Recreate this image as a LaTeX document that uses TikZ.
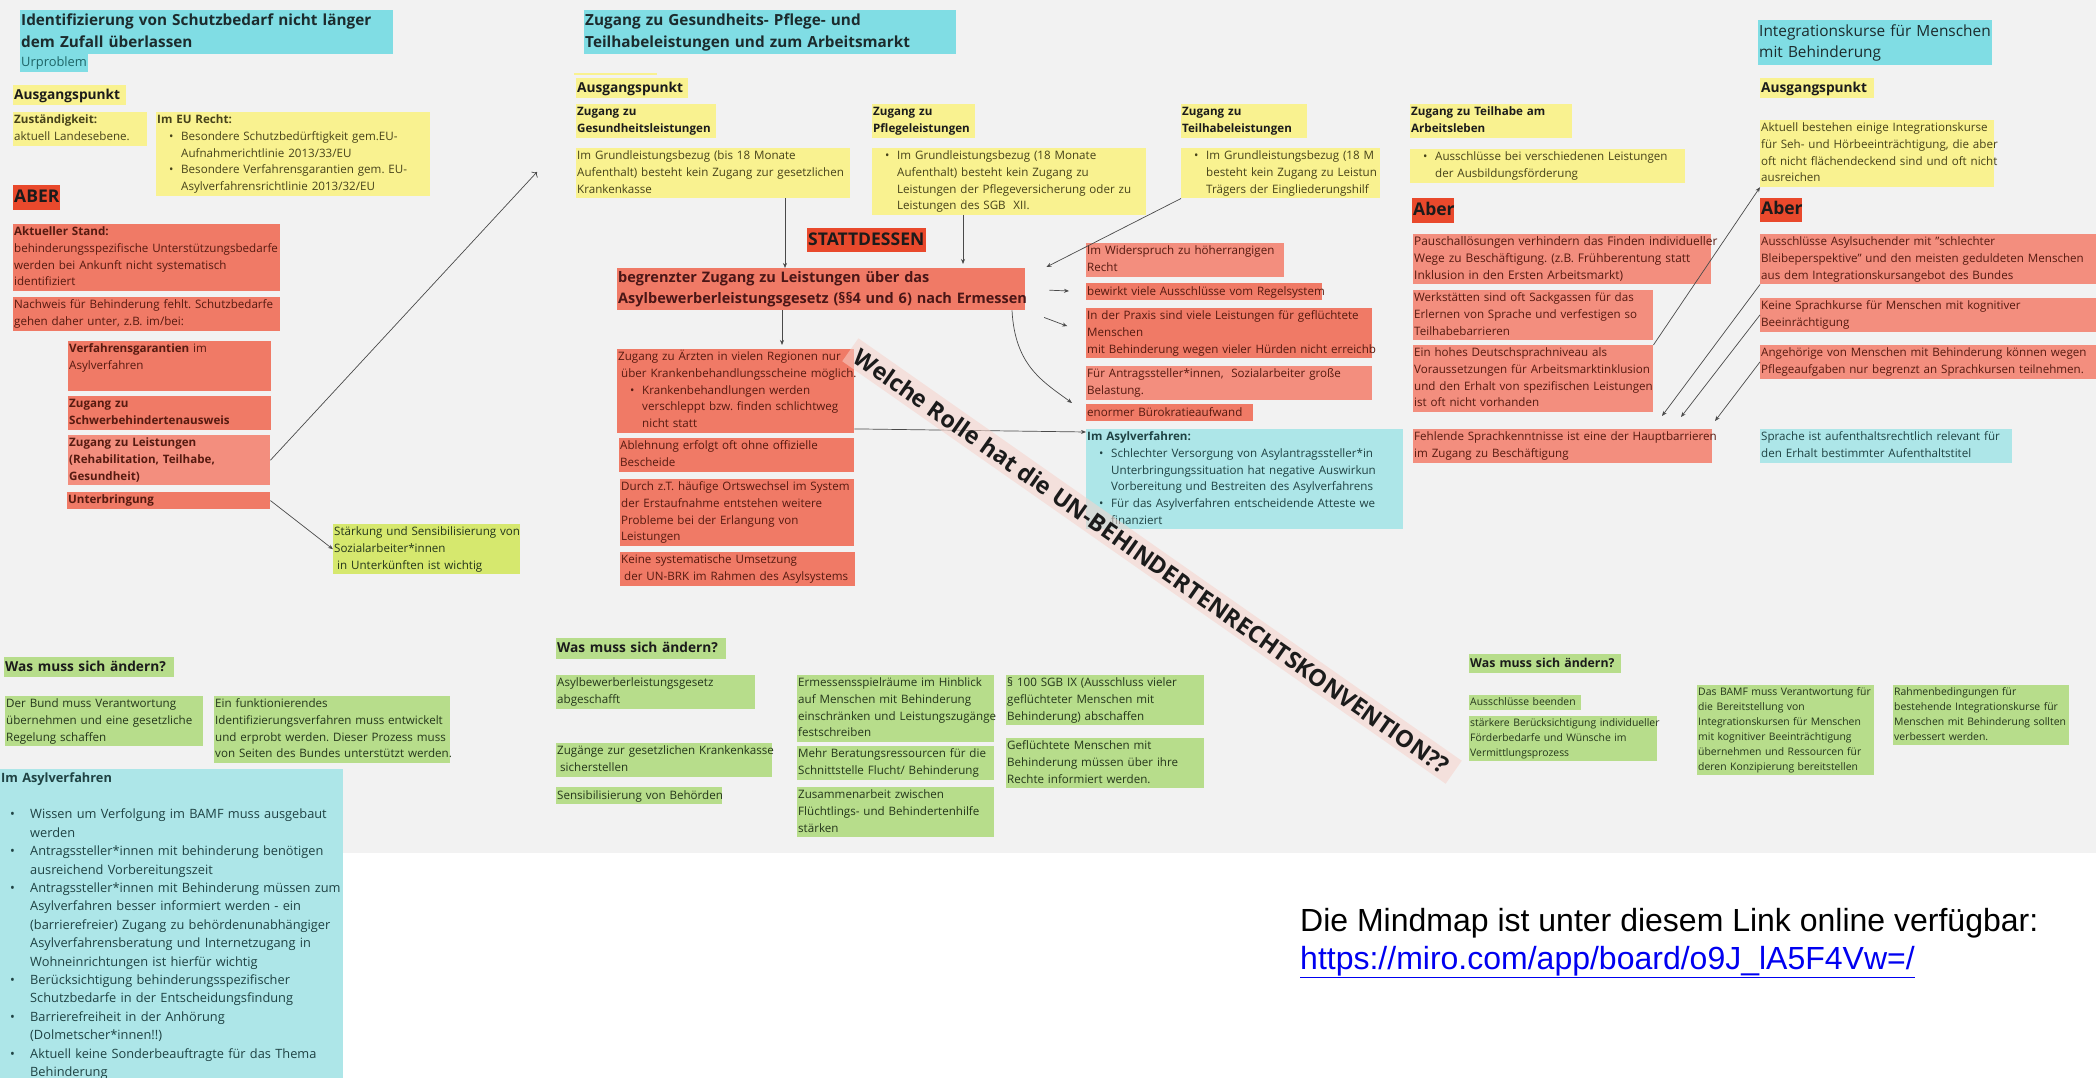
\documentclass[tikz,border=0pt]{standalone}
\usepackage{fontspec}
\setmainfont{Open Sans}
\newfontfamily\arialfont{Liberation Sans}
\usetikzlibrary{arrows.meta,calc}

\definecolor{cBoard}{HTML}{F2F2F2}
\definecolor{cTitle}{HTML}{80DDE4}
\definecolor{cCyan}{HTML}{ADE6E8}
\definecolor{cYellow}{HTML}{F9F290}
\definecolor{cRed}{HTML}{E9492C}
\definecolor{cSalmon}{HTML}{F07A66}
\definecolor{cSalmonL}{HTML}{F38E7E}
\definecolor{cGreen}{HTML}{B7DD8B}
\definecolor{cLime}{HTML}{D6E86E}
\definecolor{cBand}{HTML}{F6D3CB}
\definecolor{cLine}{HTML}{4A4A4A}
\definecolor{tDark}{HTML}{1B1B1B}
\definecolor{tTitle}{HTML}{1C2B2D}
\definecolor{tUr}{HTML}{1E6466}
\definecolor{tYellow}{HTML}{46421A}
\definecolor{tSalmon}{HTML}{561A10}
\definecolor{tGreen}{HTML}{24361B}
\definecolor{tCyan}{HTML}{1F4243}
\definecolor{linkblue}{HTML}{0000F0}

\newcommand\bul{\hspace*{12pt}\makebox[12pt][l]{\textbullet}}
\newcommand\bulind{\hspace*{24pt}}
\newcommand\bulw{\hspace*{9pt}\makebox[20pt][l]{\textbullet}}
\newcommand\bulwind{\hspace*{29pt}}
\frenchspacing

\begin{document}
\begin{tikzpicture}[x=1pt, y=-1pt,
    card/.style 2 args={anchor=north west, inner xsep=0pt, inner ysep=0pt,
      minimum width=#1pt, minimum height=#2pt, text width=#1pt,
      execute at begin node={\frenchspacing\leftskip=1pt\rightskip=0pt minus 300pt\relax\strut},
      execute at end node={\strut}},
    ynote/.style={fill=cYellow, text=tYellow},
    snote/.style={fill=cSalmon, text=tSalmon},
    slnote/.style={fill=cSalmonL, text=tSalmon},
    rnote/.style={fill=cRed, text=tDark},
    gnote/.style={fill=cGreen, text=tGreen},
    lnote/.style={fill=cLime, text=tGreen},
    cnote/.style={fill=cCyan, text=tCyan},
    tnote/.style={fill=cTitle, text=tTitle},
    txtbody/.style={font=\fontsize{11.6}{16.7}\selectfont},
    txtbold/.style={font=\bfseries\fontsize{11.6}{16.7}\selectfont},
    txtsmall/.style={font=\fontsize{10.4}{15}\selectfont},
    txtwide/.style={font=\fontsize{12.8}{18.4}\selectfont},
    txthead/.style={font=\bfseries\fontsize{13.7}{20}\selectfont, text=tDark},
    txtshead/.style={font=\bfseries\fontsize{12.3}{19}\selectfont, text=tDark},
    txtbig/.style={font=\bfseries\fontsize{17.5}{24}\selectfont},
    txttitle/.style={font=\bfseries\fontsize{15.3}{22}\selectfont},
    txtmain/.style={font=\bfseries\fontsize{14.5}{21}\selectfont, text=tDark!80!red},
    arr/.style={draw=cLine, line width=0.7pt, -{Stealth[length=5pt,width=4pt]}},
    arrO/.style={draw=cLine, line width=0.7pt, -{To[length=4pt]}}]

    \useasboundingbox (0,0) rectangle (2096,1078);
    % Board
    \fill[cBoard] (0,0) rectangle (2096,853);

    % Left column: Identifizierung
    \node[card={373}{44}, tnote, txttitle] (idTitle) at (20,10) {Identifizierung von Schutzbedarf nicht länger\\dem Zufall überlassen};
    \node[card={68}{18}, tnote, text=tUr, font=\fontsize{12.9}{18}\selectfont] (urprob) at (20,54) {Urproblem};
    \node[card={113}{20}, ynote, txthead] (ausgA) at (13,85) {Ausgangspunkt};
    \node[card={134}{33}, ynote, txtbody] (zust) at (13,112) {\textbf{Zuständigkeit:}\\aktuell Landesebene.};
    \node[card={274}{82}, ynote, txtbody] (euRecht) at (156,112) {\textbf{Im EU Recht:}\\\bul Besondere Schutzbedürftigkeit gem.EU-\\\bulind Aufnahmerichtlinie 2013/33/EU\\\bul Besondere Verfahrensgarantien gem. EU-\\\bulind Asylverfahrensrichtlinie 2013/32/EU};
    \node[card={47}{25}, rnote, txtbig] (aberA) at (13,185) {ABER};
    \node[card={267}{66}, snote, txtbody] (aktStand) at (13,224) {\textbf{Aktueller Stand:}\\behinderungsspezifische Unterstützungsbedarfe\\werden bei Ankunft nicht systematisch\\identifiziert};
    \node[card={267}{32}, snote, txtbody] (nachweis) at (13,297) {Nachweis für Behinderung fehlt. Schutzbedarfe\\gehen daher unter, z.B. im/bei:};
    \node[card={203}{49}, snote, txtbody] (verfG) at (68,341) {\textbf{Verfahrensgarantien} im\\Asylverfahren\\\mbox{}};
    \node[card={203}{32}, snote, txtbold] (schwbA) at (68,396) {Zugang zu\\Schwerbehindertenausweis};
    \node[card={202}{49}, slnote, txtbold] (leist) at (68,435) {Zugang zu Leistungen\\(Rehabilitation, Teilhabe,\\Gesundheit)};
    \node[card={203}{16}, snote, txtbold] (unterb) at (67,492) {Unterbringung};
    \node[card={187}{49}, lnote, txtbody] (staerk) at (333,524) {Stärkung und Sensibilisierung von\\Sozialarbeiter*innen\\\hspace*{3pt}in Unterkünften ist wichtig};
    \node[card={170}{20}, gnote, txthead] (aendA) at (4,657) {Was muss sich ändern?};
    \node[card={198}{49}, gnote, txtbody] (bund) at (5,696) {Der Bund muss Verantwortung\\übernehmen und eine gesetzliche\\Regelung schaffen};
    \node[card={236}{66}, gnote, txtbody] (identV) at (214,696) {Ein funktionierendes\\Identifizierungsverfahren muss entwickelt\\und erprobt werden. Dieser Prozess muss\\von Seiten des Bundes unterstützt werden.};
    \node[card={343}{309}, cnote, txtwide] (asylA) at (0,769) {\textbf{Im Asylverfahren}\\\mbox{}\\\bulw Wissen um Verfolgung im BAMF muss ausgebaut\\\bulwind werden\\\bulw Antragssteller*innen mit behinderung benötigen\\\bulwind ausreichend Vorbereitungszeit\\\bulw Antragssteller*innen mit Behinderung müssen zum\\\bulwind Asylverfahren besser informiert werden - ein\\\bulwind (barrierefreier) Zugang zu behördenunabhängiger\\\bulwind Asylverfahrensberatung und Internetzugang in\\\bulwind Wohneinrichtungen ist hierfür wichtig\\\bulw Berücksichtigung behinderungsspezifischer\\\bulwind Schutzbedarfe in der Entscheidungsfindung\\\bulw Barrierefreiheit in der Anhörung\\\bulwind (Dolmetscher*innen!!)\\\bulw Aktuell keine Sonderbeauftragte für das Thema\\\bulwind Behinderung};

    % Middle: Zugang zu Leistungen
    \node[card={372}{44}, tnote, txttitle] (zugTitle) at (584,10) {Zugang zu Gesundheits- Pflege- und\\Teilhabeleistungen und zum Arbeitsmarkt};
    \fill[cYellow] (574,73) rectangle (657,75);
    \node[card={112}{19}, ynote, txthead] (ausgB) at (576,78) {Ausgangspunkt};
    \node[card={140}{33}, ynote, txtbold, text=tDark] (gesZ) at (576,104) {Zugang zu\\Gesundheitsleistungen};
    \node[card={274}{49}, ynote, txtbody] (gesT) at (576,148) {Im Grundleistungsbezug (bis 18 Monate\\Aufenthalt) besteht kein Zugang zur gesetzlichen\\Krankenkasse};
    \node[card={103}{33}, ynote, txtbold, text=tDark] (pflZ) at (872,104) {Zugang zu\\Pflegeleistungen};
    \node[card={274}{66}, ynote, txtbody] (pflT) at (872,148) {\bul Im Grundleistungsbezug (18 Monate\\\bulind Aufenthalt) besteht kein Zugang zu\\\bulind Leistungen der Pflegeversicherung oder zu\\\bulind Leistungen des SGB\ \ XII.};
    \node[card={126}{33}, ynote, txtbold, text=tDark] (teiZ) at (1181,104) {Zugang zu\\Teilhabeleistungen};
    \node[card={199}{50}, ynote, txtbody] (teiT) at (1181,148) {\bul Im Grundleistungsbezug (18 M\\\bulind besteht kein Zugang zu Leistun\\\bulind Trägers der Eingliederungshilf};
    \node[card={119}{24}, rnote, txtbig] (statt) at (807,228) {STATTDESSEN};
    \node[card={408}{42}, snote, txtmain] (mainB) at (617,268) {begrenzter Zugang zu Leistungen über das\\Asylbewerberleistungsgesetz (§§4 und 6) nach Ermessen};
    \node[card={198}{33}, slnote, txtbody] (widerspr) at (1086,243) {Im Widerspruch zu höherrangigen\\Recht};
    \node[card={236}{17}, snote, txtbody] (bewirkt) at (1086,283) {bewirkt viele Ausschlüsse vom Regelsystem};
    \node[card={286}{50}, snote, txtbody] (praxis) at (1086,308) {In der Praxis sind viele Leistungen für geflüchtete\\Menschen\\mit Behinderung wegen vieler Hürden nicht erreichb};
    \node[card={286}{32}, slnote, txtbody] (antrag) at (1086,366) {Für Antragssteller*innen,\ \ Sozialarbeiter große\\Belastung.};
    \node[card={167}{17}, snote, txtbody] (buero) at (1086,404) {enormer Bürokratieaufwand};
    \node[card={317}{98}, cnote, txtbody] (asylB) at (1086,429) {\textbf{Im Asylverfahren:}\\\bul Schlechter Versorgung von Asylantragssteller*in\\\bulind Unterbringungssituation hat negative Auswirkun\\\bulind Vorbereitung und Bestreiten des Asylverfahrens\\\bul Für das Asylverfahren entscheidende Atteste we\\\bulind finanziert};
    \node[card={237}{82}, snote, txtbody] (aerzte) at (617,349) {Zugang zu Ärzten in vielen Regionen nur\\\hspace*{3pt}über Krankenbehandlungsscheine möglich.\\\bul Krankenbehandlungen werden\\\bulind verschleppt bzw. finden schlichtweg\\\bulind nicht statt};
    \node[card={235}{33}, snote, txtbody] (ablehn) at (619,438) {Ablehnung erfolgt oft ohne offizielle\\Bescheide};
    \node[card={234}{66}, snote, txtbody] (ortsw) at (620,479) {Durch z.T. häufige Ortswechsel im System\\der Erstaufnahme entstehen weitere\\Probleme bei der Erlangung von\\Leistungen};
    \node[card={235}{32}, snote, txtbody] (brkUms) at (620,552) {Keine systematische Umsetzung\\\hspace*{3pt}der UN-BRK im Rahmen des Asylsystems};
    \node[card={170}{21}, gnote, txthead] (aendB) at (556,638) {Was muss sich ändern?};
    \node[card={199}{32}, gnote, txtbody] (asylbg) at (556,675) {Asylbewerberleistungsgesetz\\abgeschafft};
    \node[card={216}{33}, gnote, txtbody] (krankK) at (556,743) {Zugänge zur gesetzlichen Krankenkasse\\\hspace*{3pt}sicherstellen};
    \node[card={166}{17}, gnote, txtbody] (sensib) at (556,787) {Sensibilisierung von Behörden};
    \node[card={197}{65}, gnote, txtbody] (ermess) at (797,675) {Ermessensspielräume im Hinblick\\auf Menschen mit Behinderung\\einschränken und Leistungszugänge\\festschreiben};
    \node[card={197}{32}, gnote, txtbody] (berat) at (797,746) {Mehr Beratungsressourcen für die\\Schnittstelle Flucht/ Behinderung};
    \node[card={197}{50}, gnote, txtbody] (zusarb) at (797,787) {Zusammenarbeit zwischen\\Flüchtlings- und Behindertenhilfe\\stärken};
    \node[card={198}{49}, gnote, txtbody] (sgb) at (1006,675) {§ 100 SGB IX (Ausschluss vieler\\geflüchteter Menschen mit\\Behinderung) abschaffen};
    \node[card={198}{49}, gnote, txtbody] (rechte) at (1006,738) {Geflüchtete Menschen mit\\Behinderung müssen über ihre\\Rechte informiert werden.};

    % Arbeitsleben
    \node[card={162}{33}, ynote, txtbold, text=tDark] (arbZ) at (1410,104) {Zugang zu Teilhabe am\\Arbeitsleben};
    \node[card={275}{33}, ynote, txtbody] (arbT) at (1410,149) {\bul Ausschlüsse bei verschiedenen Leistungen\\\bulind der Ausbildungsförderung};
    \node[card={42}{25}, rnote, txtbig] (aberB) at (1412,198) {Aber};
    \node[card={298}{49}, slnote, font=\fontsize{11.9}{16.7}\selectfont] (pausch) at (1413,234) {Pauschallösungen verhindern das Finden individueller\\Wege zu Beschäftigung. (z.B. Frühberentung statt\\Inklusion in den Ersten Arbeitsmarkt)};
    \node[card={240}{48}, slnote, txtbody] (werkst) at (1413,290) {Werkstätten sind oft Sackgassen für das\\Erlernen von Sprache und verfestigen so\\Teilhabebarrieren};
    \node[card={240}{66}, slnote, txtbody] (deutsch) at (1413,345) {Ein hohes Deutschsprachniveau als\\Voraussetzungen für Arbeitsmarktinklusion\\und den Erhalt von spezifischen Leistungen\\ist oft nicht vorhanden};
    \node[card={299}{32}, slnote, txtbody] (fehlend) at (1413,429) {Fehlende Sprachkenntnisse ist eine der Hauptbarrieren\\im Zugang zu Beschäftigung};
    \node[card={152}{19}, gnote, txtshead] (aendC) at (1469,654) {Was muss sich ändern?};
    \node[card={112}{14}, gnote, txtsmall] (beend) at (1469,695) {Ausschlüsse beenden};
    \node[card={188}{44}, gnote, txtsmall] (foerder) at (1469,716) {stärkere Berücksichtigung individueller\\Förderbedarfe und Wünsche im\\Vermittlungsprozess};

    % Integrationskurse
    \node[card={234}{45}, tnote, font=\fontsize{15.4}{21}\selectfont] (intTitle) at (1758,20) {Integrationskurse für Menschen\\mit Behinderung};
    \node[card={114}{17}, ynote, txthead] (ausgC) at (1760,78) {Ausgangspunkt};
    \node[card={234}{65}, ynote, txtbody] (aktuC) at (1760,120) {Aktuell bestehen einige Integrationskurse\\für Seh- und Hörbeeinträchtigung, die aber\\oft nicht flächendeckend sind und oft nicht\\ausreichen};
    \node[card={42}{23}, rnote, txtbig] (aberC) at (1760,198) {Aber};
    \node[card={336}{49}, slnote, txtbody] (ausschl) at (1760,234) {Ausschlüsse Asylsuchender mit "schlechter\\Bleibeperspektive" und den meisten geduldeten Menschen\\aus dem Integrationskursangebot des Bundes};
    \node[card={336}{32}, slnote, txtbody] (keine) at (1760,298) {Keine Sprachkurse für Menschen mit kognitiver\\Beeinrächtigung};
    \node[card={336}{33}, slnote, txtbody] (angeh) at (1760,345) {Angehörige von Menschen mit Behinderung können wegen\\Pflegeaufgaben nur begrenzt an Sprachkursen teilnehmen.};
    \node[card={252}{32}, cnote, txtbody] (sprache) at (1760,429) {Sprache ist aufenthaltsrechtlich relevant für\\den Erhalt bestimmter Aufenthaltstitel};
    \node[card={177}{88}, gnote, txtsmall] (bamf) at (1697,685) {Das BAMF muss Verantwortung für\\die Bereitstellung von\\Integrationskursen für Menschen\\mit kognitiver Beeinträchtigung\\übernehmen und Ressourcen für\\deren Konzipierung bereitstellen};
    \node[card={176}{59}, gnote, txtsmall] (rahmen) at (1893,685) {Rahmenbedingungen für\\bestehende Integrationskurse für\\Menschen mit Behinderung sollten\\verbessert werden.};

    % Arrows
    \coordinate (euTip) at (537,172);
    \coordinate (gesOut) at ($(gesT.south west)+(209,0)$);
    \coordinate (pflOut) at ($(pflT.south west)+(91,0)$);
    \coordinate (teiIn) at ($(mainB.north east)+(21,-1)$);
    \coordinate (mainOut) at ($(mainB.south west)+(165,0)$);
    \coordinate (curveOut) at ($(mainB.south west)+(395,0)$);
    \coordinate (bueroIn) at ($(buero.north west)+(-14,-1)$);
    \coordinate (aerzteOut) at ($(aerzte.south east)+(0,-4)$);
    \coordinate (asylIn) at ($(asylB.north west)+(0,3)$);
    \coordinate (fIn1) at ($(fehlend.north west)+(249,-13)$);
    \coordinate (fIn2) at ($(fehlend.north west)+(268,-12)$);
    \coordinate (fIn3) at ($(fehlend.north west)+(302,-8)$);

    \draw[arrO] (leist.east) -- (euTip);
    \draw[arr] (unterb.east) -- (staerk.west);
    \draw[arr] (gesOut) -- (gesOut |- mainB.north);
    \draw[arr, shorten >=4pt] (pflOut) -- (pflOut |- mainB.north);
    \draw[arr] (teiT.south west) -- (teiIn);
    \draw[arr, shorten <=24pt, shorten >=17pt] (mainB.east) -- (bewirkt.west);
    \draw[arr, shorten <=20pt, shorten >=20pt] (mainB.south east) -- (praxis.west);
    \draw[arr] (curveOut) .. controls ($(curveOut)+(3,55)$) and ($(bueroIn)+(-30,-22)$) .. (bueroIn);
    \draw[arr, shorten >=4pt] (mainOut) -- (mainOut |- aerzte.north);
    \draw[arr] (aerzteOut) -- (asylIn);
    \draw[arr] (deutsch.north east) -- (aktuC.south west);
    \draw[arr] (ausschl.south west) -- (fIn1);
    \draw[arr] (keine.west) -- (fIn2);
    \draw[arr] (angeh.west) -- (fIn3);

    % Question across the board
    \node[rotate=-35, fill=cBand, fill opacity=0.55, text opacity=1, text=tDark, inner xsep=8pt, inner ysep=5pt,
      font=\bfseries\fontsize{23.4}{27}\selectfont] (unQuestion) at (1152,561) {Welche Rolle hat die UN-BEHINDERTENRECHTSKONVENTION??};

    % Link below the board
    \node[anchor=base west, inner sep=0pt, font=\arialfont\fontsize{32}{38}\selectfont] (mmText) at (1300,931) {Die Mindmap ist unter diesem Link online verfügbar:};
    \node[anchor=base west, inner sep=0pt, text=linkblue, font=\arialfont\fontsize{32}{38}\selectfont] (mmLink) at (1300,969) {\underline{https://miro.com/app/board/o9J\_lA5F4Vw=/}};
\end{tikzpicture}
\end{document}
